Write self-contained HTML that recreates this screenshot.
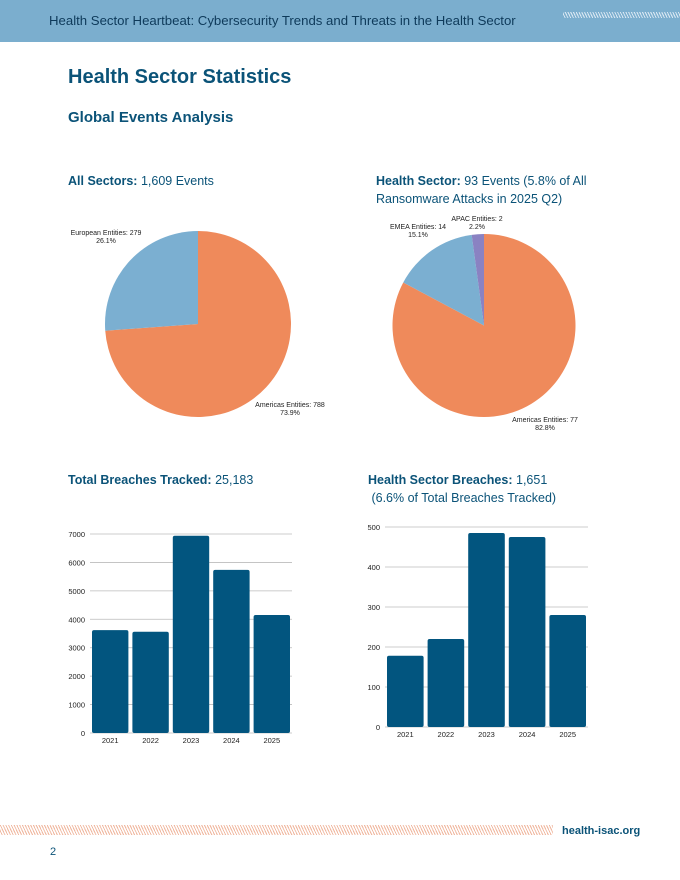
<!DOCTYPE html>
<html><head><meta charset="utf-8"><style>
html,body{margin:0;padding:0;background:#fff;}
body{width:680px;height:880px;position:relative;overflow:hidden;font-family:"Liberation Sans",sans-serif;}
.hdr{position:absolute;left:0;top:0;width:680px;height:42px;background:#7BAECE;}
.hdr span{position:absolute;left:49px;top:13px;font-size:13.2px;color:#0e3a5a;}
.hatch{position:absolute;background:repeating-linear-gradient(65deg,transparent 0 1.5px,var(--c) 1.5px 2.5px);}
h1{position:absolute;left:68px;top:66px;margin:0;font-size:20px;color:#0B5378;font-weight:bold;}
h2{position:absolute;left:68px;top:109px;margin:0;font-size:15px;color:#0B5378;font-weight:bold;}
.t{position:absolute;font-size:12.5px;color:#0B5378;line-height:18px;}
.t b{font-weight:bold;}
svg{position:absolute;left:0;top:0;}
</style></head><body>
<div class="hdr"><span>Health Sector Heartbeat: Cybersecurity Trends and Threats in the Health Sector</span></div>
<div class="hatch" style="--c:#d8e7f2;left:563px;top:12px;width:117px;height:6px;"></div>
<h1>Health Sector Statistics</h1>
<h2>Global Events Analysis</h2>
<div class="t" style="left:68px;top:172px"><b>All Sectors:</b> 1,609 Events</div>
<div class="t" style="left:376px;top:172px"><b>Health Sector:</b> 93 Events (5.8% of All<br>Ransomware Attacks in 2025 Q2)</div>
<div class="t" style="left:68px;top:471px"><b>Total Breaches Tracked:</b> 25,183</div>
<div class="t" style="left:368px;top:471px"><b>Health Sector Breaches:</b> 1,651<br>&nbsp;(6.6% of Total Breaches Tracked)</div>
<div class="hatch" style="--c:#f0b8a0;left:0;top:825px;width:553px;height:10px;"></div>
<div class="t" style="left:562px;top:822px;font-size:11px;font-weight:bold;">health-isac.org</div>
<div class="t" style="left:50px;top:843px;font-size:11px;">2</div>
<svg id="s" width="680" height="880"></svg>
<script>
const pie1Labels=["Americas Entities","European Entities"];
const pie1Values=[788,279];
const pie1Pct=["73.9%","26.1%"];
const pie2Labels=["Americas Entities","EMEA Entities","APAC Entities"];
const pie2Values=[77,14,2];
const pie2Pct=["82.8%","15.1%","2.2%"];
const years=["2021","2022","2023","2024","2025"];
const totalBreaches=[3620,3560,6940,5740,4150];
const healthBreaches=[178,220,485,475,280];
const ticks1=[0,1000,2000,3000,4000,5000,6000,7000];
const ticks2=[0,100,200,300,400,500];
const NS="http://www.w3.org/2000/svg";
const s=document.getElementById('s');
function el(t,a,txt){const e=document.createElementNS(NS,t);for(const k in a)e.setAttribute(k,a[k]);if(txt!==undefined)e.textContent=txt;s.appendChild(e);return e;}
function pie(cx,cy,r,vals,cols,labs,pcts,lpos,name){
  const tot=vals.reduce((a,b)=>a+b,0);let a0=0;
  vals.forEach((v,i)=>{const a1=a0+v/tot*2*Math.PI;
    const x0=cx+r*Math.sin(a0),y0=cy-r*Math.cos(a0),x1=cx+r*Math.sin(a1),y1=cy-r*Math.cos(a1);
    const p=el('path',{d:`M${cx},${cy}L${x0},${y0}A${r},${r} 0 ${a1-a0>Math.PI?1:0} 1 ${x1},${y1}Z`,fill:cols[i]});
    
    
    const [lx,ly]=lpos[i];
    const t=el('text',{x:lx,y:ly,'font-size':7,'text-anchor':'middle',fill:'#222'},labs[i]+': '+v);
    
    
    el('text',{x:lx,y:ly+8,'font-size':7,'text-anchor':'middle',fill:'#222'},pcts[i]);
    a0=a1;});
}
pie(198,324,93,pie1Values,["#EF8A5B","#7BAFD1"],pie1Labels,pie1Pct,[[290,407],[106,235]],'all-sectors-pie');
pie(484,325.5,91.5,pie2Values,["#EF8A5B","#7BAFD1","#8A82C2"],pie2Labels,pie2Pct,[[545,422],[418,229],[477,221]],'health-pie');
function bars(x0,x1,yTop,yBot,max,ticks,vals,name){
  const y=v=>yBot-(v/max)*(yBot-yTop);
  ticks.forEach(t=>{const l=el('line',{x1:x0,x2:x1,y1:y(t),y2:y(t),stroke:'#bbb','stroke-width':0.8});
    
    
    const tx=el('text',{x:x0-5,y:y(t)+3,'font-size':7.5,'text-anchor':'end',fill:'#222'},String(t));
    
    });
  const band=(x1-x0)/vals.length,gap=4;
  vals.forEach((v,i)=>{const bx=x0+i*band+gap/2;
    const r=el('rect',{x:bx,y:y(v),width:band-gap,height:yBot-y(v),rx:2,fill:'#02557F'});
    
    
    const tx=el('text',{x:bx+(band-gap)/2,y:yBot+10,'font-size':7.5,'text-anchor':'middle',fill:'#222'},years[i]);
    
    });
}
bars(90,292,534,733,7000,ticks1,totalBreaches,'total-breaches');
bars(385,588,527,727,500,ticks2,healthBreaches,'health-breaches');
</script>
</body></html>
